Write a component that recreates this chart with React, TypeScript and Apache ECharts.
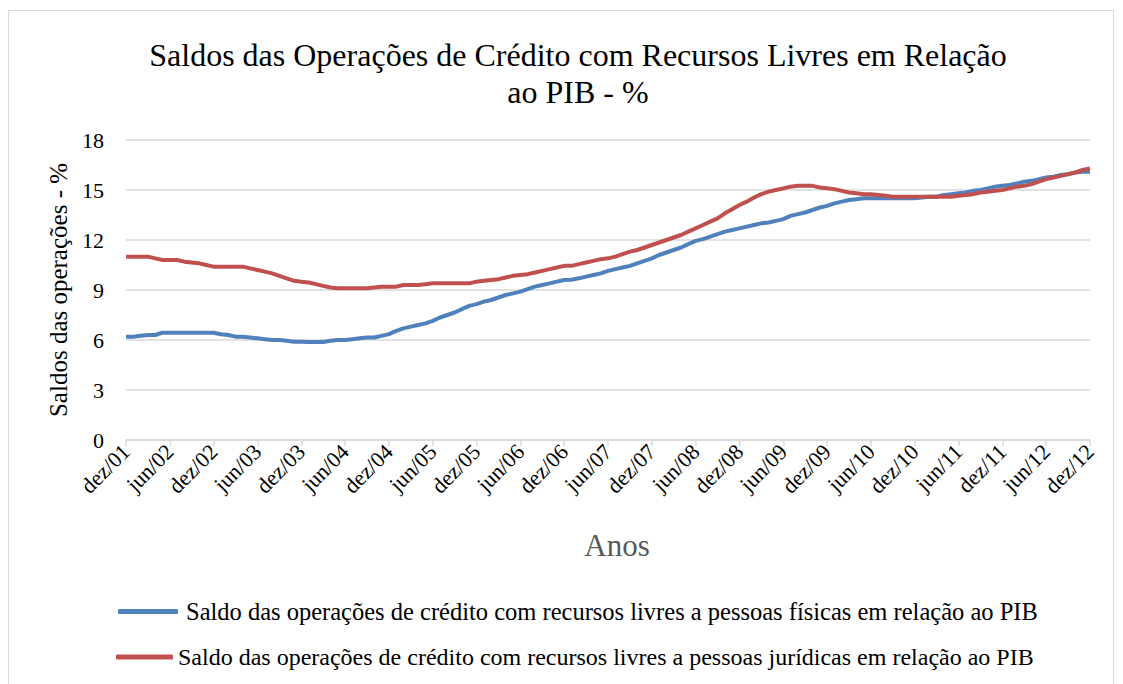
import React, { useEffect, useRef } from "react";
import * as echarts from "echarts";

const monthNames = ["jan", "fev", "mar", "abr", "mai", "jun", "jul", "ago", "set", "out", "nov", "dez"];
const years = ["01", "02", "03", "04", "05", "06", "07", "08", "09", "10", "11", "12"];

// Monthly categories dez/01 ... dez/12
const categories: string[] = ["dez/01"];
for (let y = 1; y < years.length; y++) {
  for (let m = 0; m < 12; m++) categories.push(monthNames[m] + "/" + years[y]);
}

const yTicks = [0, 3, 6, 9, 12, 15, 18];

const pessoasFisicas = [
  6.2, 6.2, 6.25, 6.3, 6.3, 6.44, 6.44, 6.44, 6.44, 6.44, 6.44, 6.44, 6.44,
  6.35, 6.3, 6.2, 6.2, 6.15, 6.1, 6.05, 6.0, 6.0, 5.95, 5.9, 5.9,
  5.88, 5.88, 5.88, 5.95, 6.0, 6.0, 6.05, 6.1, 6.15, 6.15, 6.25, 6.35,
  6.55, 6.7, 6.8, 6.9, 7.0, 7.15, 7.35, 7.5, 7.65, 7.85, 8.05, 8.15,
  8.3, 8.4, 8.55, 8.7, 8.8, 8.9, 9.05, 9.2, 9.3, 9.4, 9.5, 9.6,
  9.62, 9.7, 9.8, 9.9, 10.0, 10.15, 10.25, 10.35, 10.45, 10.6, 10.75, 10.9,
  11.1, 11.25, 11.4, 11.55, 11.75, 11.95, 12.05, 12.2, 12.35, 12.5, 12.6, 12.7,
  12.8, 12.9, 13.0, 13.05, 13.15, 13.25, 13.45, 13.55, 13.65, 13.8, 13.95, 14.05,
  14.2, 14.3, 14.4, 14.45, 14.5, 14.5, 14.5, 14.5, 14.5, 14.5, 14.5, 14.5,
  14.55, 14.6, 14.6, 14.7, 14.75, 14.8, 14.85, 14.95, 15.0, 15.1, 15.2, 15.25,
  15.3, 15.4, 15.5, 15.55, 15.65, 15.75, 15.8, 15.9, 15.95, 16.05, 16.1, 16.1,
];

const pessoasJuridicas = [
  11.0, 11.0, 11.0, 11.0, 10.9, 10.8, 10.8, 10.8, 10.7, 10.65, 10.6, 10.5, 10.4,
  10.4, 10.4, 10.4, 10.4, 10.3, 10.2, 10.1, 10.0, 9.85, 9.7, 9.55, 9.5,
  9.45, 9.35, 9.25, 9.15, 9.1, 9.1, 9.1, 9.1, 9.1, 9.15, 9.2, 9.2,
  9.2, 9.3, 9.3, 9.3, 9.35, 9.4, 9.4, 9.4, 9.4, 9.4, 9.4, 9.5,
  9.55, 9.6, 9.65, 9.75, 9.85, 9.9, 9.95, 10.05, 10.15, 10.25, 10.35, 10.45,
  10.45, 10.55, 10.65, 10.75, 10.85, 10.9, 11.0, 11.15, 11.3, 11.4, 11.55, 11.7,
  11.85, 12.0, 12.15, 12.3, 12.5, 12.7, 12.9, 13.1, 13.3, 13.6, 13.85, 14.1,
  14.3, 14.55, 14.75, 14.9, 15.0, 15.1, 15.2, 15.25, 15.25, 15.25, 15.15, 15.1,
  15.05, 14.95, 14.85, 14.8, 14.75, 14.75, 14.7, 14.65, 14.6, 14.6, 14.6, 14.6,
  14.6, 14.6, 14.6, 14.6, 14.6, 14.65, 14.7, 14.75, 14.85, 14.9, 14.95, 15.0,
  15.1, 15.2, 15.25, 15.35, 15.5, 15.65, 15.75, 15.85, 15.95, 16.05, 16.2, 16.3,
];

const nameFisicas = "Saldo das operações de crédito com recursos livres a pessoas físicas em relação ao PIB";
const nameJuridicas = "Saldo das operações de crédito com recursos livres a pessoas jurídicas em relação ao PIB";

const FONT = "Liberation Serif";

export default function App() {
  const ref = useRef<HTMLDivElement>(null);
  useEffect(() => {
    if (!ref.current) return;
    const chart = echarts.init(ref.current, null, { renderer: "svg" });
    chart.setOption({
      animation: false,
      backgroundColor: "#ffffff",
      textStyle: { fontFamily: FONT },
      title: {
        text: "Saldos das Operações de Crédito com Recursos Livres em Relação\nao PIB - %",
        left: 573,
        top: 31,
        textAlign: "center",
        textStyle: { fontFamily: FONT, fontSize: 32, fontWeight: "normal", color: "#000000", lineHeight: 37 },
      },
      graphic: [
        {
          type: "rect",
          shape: { x: 8.5, y: 10.5, width: 1105, height: 700 },
          style: { fill: "none", stroke: "#d9d9d9", lineWidth: 1 },
          silent: true,
        },
      ],
      grid: { left: 126, right: 33, top: 140, bottom: 244, containLabel: false },
      legend: [
        {
          data: [{ name: nameFisicas, icon: "roundRect" }],
          orient: "horizontal",
          left: 118,
          top: 599,
          padding: 0,
          itemWidth: 60,
          itemHeight: 5,
          textStyle: { fontFamily: FONT, fontSize: 24.5, fontWeight: "normal", color: "#000000", padding: [0, 0, 0, 3] },
        },
        {
          data: [{ name: nameJuridicas, icon: "roundRect" }],
          orient: "horizontal",
          left: 116,
          top: 645,
          padding: 0,
          itemWidth: 57,
          itemHeight: 5,
          textStyle: { fontFamily: FONT, fontSize: 24, fontWeight: "normal", color: "#000000" },
        },
      ],
      xAxis: {
        type: "category",
        data: categories,
        boundaryGap: false,
        name: "Anos",
        nameLocation: "middle",
        nameGap: 90,
        nameTextStyle: { fontFamily: FONT, fontSize: 31, color: "#595959", padding: [0, 0, 0, 18] },
        axisLine: { lineStyle: { color: "#d9d9d9", width: 1.5 } },
        axisTick: { show: true, interval: 5, length: 6, lineStyle: { color: "#d9d9d9", width: 1.5 } },
        axisLabel: {
          interval: 5,
          rotate: 45,
          fontFamily: FONT,
          fontSize: 22,
          color: "#000000",
          margin: 8,
        },
        splitLine: { show: false },
      },
      yAxis: {
        type: "value",
        min: yTicks[0],
        max: yTicks[yTicks.length - 1],
        interval: 3,
        name: "Saldos das operações - %",
        nameLocation: "middle",
        nameGap: 54,
        nameRotate: 90,
        nameTextStyle: { fontFamily: FONT, fontSize: 25, color: "#000000" },
        axisLine: { show: false },
        axisTick: { show: false },
        axisLabel: { fontFamily: FONT, fontSize: 22, color: "#000000", margin: 22 },
        splitLine: { lineStyle: { color: "#d9d9d9", width: 1.5 } },
      },
      series: [
        {
          name: nameFisicas,
          type: "line",
          data: pessoasFisicas,
          showSymbol: false,
          symbol: "none",
          lineStyle: { color: "#4F81BD", width: 4 },
          itemStyle: { color: "#4F81BD" },
        },
        {
          name: nameJuridicas,
          type: "line",
          data: pessoasJuridicas,
          showSymbol: false,
          symbol: "none",
          lineStyle: { color: "#C0504D", width: 4 },
          itemStyle: { color: "#C0504D" },
        },
      ],
    });
    return () => chart.dispose();
  }, []);
  return (
    <div
      ref={ref}
      style={{ position: "fixed", left: 0, top: 0, width: 1123, height: 684, background: "#fff" }}
    />
  );
}
